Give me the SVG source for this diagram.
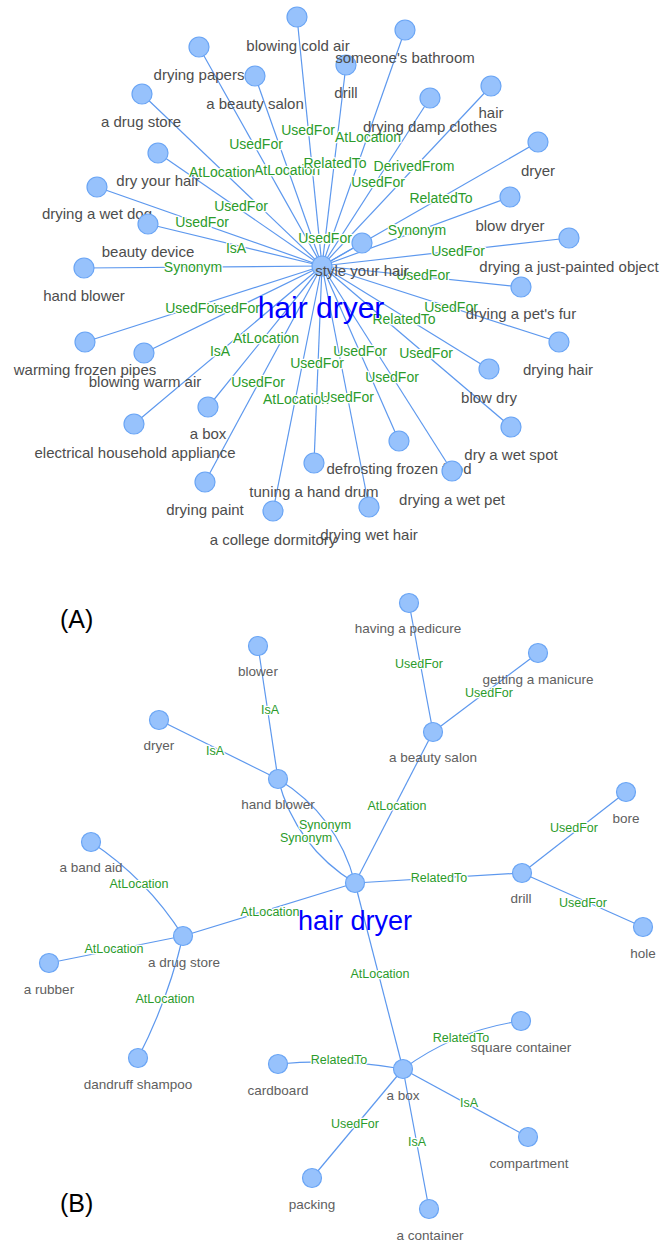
<svg xmlns="http://www.w3.org/2000/svg" width="662" height="1245" viewBox="0 0 662 1245">
<style>
.e{stroke:#5d98ee;stroke-width:1.2;fill:none}
.el{font-family:"Liberation Sans",Arial,sans-serif;font-size:14px;fill:#2b9b2b;text-anchor:middle;paint-order:stroke;stroke:#fff;stroke-width:2.5;stroke-linejoin:round}
.elb{font-size:12.5px}
circle{fill:#97c2fc;stroke:#6aa5f5;stroke-width:1.2}
.nl{font-family:"Liberation Sans",Arial,sans-serif;font-size:15px;fill:#4d4d4d;text-anchor:middle}
.nlb{font-size:13.5px;fill:#606060}
.hub{font-family:"Liberation Sans",Arial,sans-serif;fill:#0000ff;text-anchor:middle}
.tag{font-family:"Liberation Sans",Arial,sans-serif;font-size:25px;fill:#000}
</style>
<rect width="662" height="1245" fill="#fff"/>

<!-- ===== Part A ===== -->
<g id="connectors-a">
<line class="e" x1="322" y1="266" x2="297" y2="17"/>
<line class="e" x1="322" y1="266" x2="199" y2="47"/>
<line class="e" x1="322" y1="266" x2="255" y2="76"/>
<line class="e" x1="322" y1="266" x2="142" y2="94"/>
<line class="e" x1="322" y1="266" x2="158" y2="153"/>
<line class="e" x1="322" y1="266" x2="97" y2="187"/>
<line class="e" x1="322" y1="266" x2="148" y2="224"/>
<line class="e" x1="322" y1="266" x2="84" y2="268"/>
<line class="e" x1="322" y1="266" x2="405" y2="30"/>
<line class="e" x1="322" y1="266" x2="346" y2="65"/>
<line class="e" x1="322" y1="266" x2="430" y2="98"/>
<line class="e" x1="322" y1="266" x2="491" y2="86"/>
<line class="e" x1="322" y1="266" x2="538" y2="142"/>
<line class="e" x1="322" y1="266" x2="510" y2="197"/>
<line class="e" x1="322" y1="266" x2="569" y2="238"/>
<line class="e" x1="322" y1="266" x2="362" y2="243"/>
<line class="e" x1="322" y1="266" x2="521" y2="287"/>
<line class="e" x1="322" y1="266" x2="559" y2="342"/>
<line class="e" x1="322" y1="266" x2="489" y2="369"/>
<line class="e" x1="322" y1="266" x2="511" y2="427"/>
<line class="e" x1="322" y1="266" x2="399" y2="441"/>
<line class="e" x1="322" y1="266" x2="452" y2="471"/>
<line class="e" x1="322" y1="266" x2="369" y2="507"/>
<line class="e" x1="322" y1="266" x2="85" y2="342"/>
<line class="e" x1="322" y1="266" x2="144" y2="353"/>
<line class="e" x1="322" y1="266" x2="134" y2="424"/>
<line class="e" x1="322" y1="266" x2="208" y2="407"/>
<line class="e" x1="322" y1="266" x2="205" y2="482"/>
<line class="e" x1="322" y1="266" x2="314" y2="463"/>
<line class="e" x1="322" y1="266" x2="273" y2="511"/>
<text class="el" x="308" y="135">UsedFor</text>
<text class="el" x="256" y="149">UsedFor</text>
<text class="el" x="287" y="175">AtLocation</text>
<text class="el" x="222" y="177">AtLocation</text>
<text class="el" x="241" y="211">UsedFor</text>
<text class="el" x="202" y="227">UsedFor</text>
<text class="el" x="236" y="253">IsA</text>
<text class="el" x="193" y="272">Synonym</text>
<text class="el" x="368" y="142">AtLocation</text>
<text class="el" x="335" y="168">RelatedTo</text>
<text class="el" x="378" y="187">UsedFor</text>
<text class="el" x="414" y="171">DerivedFrom</text>
<text class="el" x="441" y="203">RelatedTo</text>
<text class="el" x="417" y="235">Synonym</text>
<text class="el" x="458" y="256">UsedFor</text>
<text class="el" x="325" y="243">UsedFor</text>
<text class="el" x="423" y="280">UsedFor</text>
<text class="el" x="451" y="312">UsedFor</text>
<text class="el" x="404" y="324">RelatedTo</text>
<text class="el" x="426" y="358">UsedFor</text>
<text class="el" x="360" y="356">UsedFor</text>
<text class="el" x="392" y="382">UsedFor</text>
<text class="el" x="296" y="404">AtLocation</text>
<text class="el" x="347" y="402">UsedFor</text>
<text class="el" x="233" y="313">UsedFor</text>
<text class="el" x="192" y="313">UsedFor</text>
<text class="el" x="220" y="356">IsA</text>
<text class="el" x="266" y="343">AtLocation</text>
<text class="el" x="258" y="387">UsedFor</text>
<text class="el" x="317" y="368">UsedFor</text>
</g>

<g id="a-hair-dryer"><circle cx="322" cy="266" r="10"/><text class="hub" x="321" y="318" font-size="30">hair dryer</text></g>
<g id="a-style-your-hair"><circle cx="362" cy="243" r="10"/><text class="nl" x="362" y="276">style your hair</text></g>
<g id="a-blowing-cold-air"><circle cx="297" cy="17" r="10"/><text class="nl" x="298" y="51">blowing cold air</text></g>
<g id="a-drying-papers"><circle cx="199" cy="47" r="10"/><text class="nl" x="199" y="80">drying papers</text></g>
<g id="a-beauty-salon"><circle cx="255" cy="76" r="10"/><text class="nl" x="255" y="109">a beauty salon</text></g>
<g id="a-drug-store"><circle cx="142" cy="94" r="10"/><text class="nl" x="141" y="127">a drug store</text></g>
<g id="a-dry-your-hair"><circle cx="158" cy="153" r="10"/><text class="nl" x="158" y="186">dry your hair</text></g>
<g id="a-drying-wet-dog"><circle cx="97" cy="187" r="10"/><text class="nl" x="97" y="219">drying a wet dog</text></g>
<g id="a-beauty-device"><circle cx="148" cy="224" r="10"/><text class="nl" x="148" y="257">beauty device</text></g>
<g id="a-hand-blower"><circle cx="84" cy="268" r="10"/><text class="nl" x="84" y="301">hand blower</text></g>
<g id="a-drill"><circle cx="346" cy="65" r="10"/><text class="nl" x="346" y="98">drill</text></g>
<g id="a-someones-bathroom"><circle cx="405" cy="30" r="10"/><text class="nl" x="405" y="63">someone's bathroom</text></g>
<g id="a-drying-damp-clothes"><circle cx="430" cy="98" r="10"/><text class="nl" x="430" y="132">drying damp clothes</text></g>
<g id="a-hair"><circle cx="491" cy="86" r="10"/><text class="nl" x="491" y="118">hair</text></g>
<g id="a-dryer"><circle cx="538" cy="142" r="10"/><text class="nl" x="538" y="176">dryer</text></g>
<g id="a-blow-dryer"><circle cx="510" cy="197" r="10"/><text class="nl" x="510" y="231">blow dryer</text></g>
<g id="a-drying-just-painted-object"><circle cx="569" cy="238" r="10"/><text class="nl" x="569" y="272">drying a just-painted object</text></g>
<g id="a-drying-pets-fur"><circle cx="521" cy="287" r="10"/><text class="nl" x="521" y="319">drying a pet's fur</text></g>
<g id="a-drying-hair"><circle cx="559" cy="342" r="10"/><text class="nl" x="558" y="375">drying hair</text></g>
<g id="a-blow-dry"><circle cx="489" cy="369" r="10"/><text class="nl" x="489" y="403">blow dry</text></g>
<g id="a-dry-wet-spot"><circle cx="511" cy="427" r="10"/><text class="nl" x="511" y="460">dry a wet spot</text></g>
<g id="a-defrosting-frozen-food"><circle cx="399" cy="441" r="10"/><text class="nl" x="399" y="474">defrosting frozen food</text></g>
<g id="a-drying-wet-pet"><circle cx="452" cy="471" r="10"/><text class="nl" x="452" y="505">drying a wet pet</text></g>
<g id="a-warming-frozen-pipes"><circle cx="85" cy="342" r="10"/><text class="nl" x="85" y="375">warming frozen pipes</text></g>
<g id="a-blowing-warm-air"><circle cx="144" cy="353" r="10"/><text class="nl" x="145" y="387">blowing warm air</text></g>
<g id="a-electrical-household-appliance"><circle cx="134" cy="424" r="10"/><text class="nl" x="135" y="458">electrical household appliance</text></g>
<g id="a-a-box"><circle cx="208" cy="407" r="10"/><text class="nl" x="208" y="439">a box</text></g>
<g id="a-drying-paint"><circle cx="205" cy="482" r="10"/><text class="nl" x="205" y="515">drying paint</text></g>
<g id="a-tuning-hand-drum"><circle cx="314" cy="463" r="10"/><text class="nl" x="314" y="497">tuning a hand drum</text></g>
<g id="a-college-dormitory"><circle cx="273" cy="511" r="10"/><text class="nl" x="273" y="545">a college dormitory</text></g>
<g id="a-drying-wet-hair"><circle cx="369" cy="507" r="10"/><text class="nl" x="369" y="540">drying wet hair</text></g>

<text class="tag" x="60" y="628">(A)</text>

<!-- ===== Part B ===== -->
<g id="connectors-b">
<line class="e" x1="278" y1="779" x2="258" y2="646"/>
<line class="e" x1="278" y1="779" x2="159" y2="720"/>
<path class="e" d="M278,779 Q337,815 355,883"/>
<path class="e" d="M278,779 Q296,847 355,883"/>
<line class="e" x1="355" y1="883" x2="433" y2="732"/>
<line class="e" x1="433" y1="732" x2="409" y2="603"/>
<line class="e" x1="433" y1="732" x2="538" y2="653"/>
<line class="e" x1="355" y1="883" x2="522" y2="873"/>
<line class="e" x1="522" y1="873" x2="626" y2="792"/>
<line class="e" x1="522" y1="873" x2="643" y2="927"/>
<line class="e" x1="355" y1="883" x2="183" y2="936"/>
<path class="e" d="M183,936 Q147,879 91,842"/>
<line class="e" x1="183" y1="936" x2="49" y2="963"/>
<path class="e" d="M183,936 Q168,1000 138,1058"/>
<line class="e" x1="355" y1="883" x2="403" y2="1069"/>
<path class="e" d="M403,1069 Q456,1030 521,1021"/>
<path class="e" d="M403,1069 Q340,1058 278,1064"/>
<line class="e" x1="403" y1="1069" x2="528" y2="1137"/>
<line class="e" x1="403" y1="1069" x2="312" y2="1178"/>
<line class="e" x1="403" y1="1069" x2="429" y2="1209"/>
<text class="el elb" x="270" y="714">IsA</text>
<text class="el elb" x="215" y="755">IsA</text>
<text class="el elb" x="325" y="829">Synonym</text>
<text class="el elb" x="306" y="842">Synonym</text>
<text class="el elb" x="397" y="810">AtLocation</text>
<text class="el elb" x="419" y="668">UsedFor</text>
<text class="el elb" x="489" y="697">UsedFor</text>
<text class="el elb" x="439" y="882">RelatedTo</text>
<text class="el elb" x="574" y="832">UsedFor</text>
<text class="el elb" x="583" y="907">UsedFor</text>
<text class="el elb" x="270" y="916">AtLocation</text>
<text class="el elb" x="139" y="888">AtLocation</text>
<text class="el elb" x="114" y="953">AtLocation</text>
<text class="el elb" x="165" y="1003">AtLocation</text>
<text class="el elb" x="380" y="978">AtLocation</text>
<text class="el elb" x="461" y="1042">RelatedTo</text>
<text class="el elb" x="339" y="1064">RelatedTo</text>
<text class="el elb" x="469" y="1107">IsA</text>
<text class="el elb" x="355" y="1128">UsedFor</text>
<text class="el elb" x="417" y="1146">IsA</text>
</g>

<g id="b-hair-dryer"><circle cx="355" cy="883" r="9.5"/><text class="hub" x="355" y="930" font-size="27">hair dryer</text></g>
<g id="b-blower"><circle cx="258" cy="646" r="9.5"/><text class="nl nlb" x="258" y="676">blower</text></g>
<g id="b-dryer"><circle cx="159" cy="720" r="9.5"/><text class="nl nlb" x="159" y="750">dryer</text></g>
<g id="b-hand-blower"><circle cx="278" cy="779" r="9.5"/><text class="nl nlb" x="278" y="809">hand blower</text></g>
<g id="b-having-pedicure"><circle cx="409" cy="603" r="9.5"/><text class="nl nlb" x="408" y="633">having a pedicure</text></g>
<g id="b-getting-manicure"><circle cx="538" cy="653" r="9.5"/><text class="nl nlb" x="538" y="684">getting a manicure</text></g>
<g id="b-beauty-salon"><circle cx="433" cy="732" r="9.5"/><text class="nl nlb" x="433" y="762">a beauty salon</text></g>
<g id="b-bore"><circle cx="626" cy="792" r="9.5"/><text class="nl nlb" x="626" y="823">bore</text></g>
<g id="b-drill"><circle cx="522" cy="873" r="9.5"/><text class="nl nlb" x="521" y="903">drill</text></g>
<g id="b-hole"><circle cx="643" cy="927" r="9.5"/><text class="nl nlb" x="643" y="958">hole</text></g>
<g id="b-band-aid"><circle cx="91" cy="842" r="9.5"/><text class="nl nlb" x="91" y="872">a band aid</text></g>
<g id="b-drug-store"><circle cx="183" cy="936" r="9.5"/><text class="nl nlb" x="184" y="967">a drug store</text></g>
<g id="b-rubber"><circle cx="49" cy="963" r="9.5"/><text class="nl nlb" x="49" y="994">a rubber</text></g>
<g id="b-dandruff-shampoo"><circle cx="138" cy="1058" r="9.5"/><text class="nl nlb" x="138" y="1089">dandruff shampoo</text></g>
<g id="b-a-box"><circle cx="403" cy="1069" r="9.5"/><text class="nl nlb" x="403" y="1100">a box</text></g>
<g id="b-square-container"><circle cx="521" cy="1021" r="9.5"/><text class="nl nlb" x="521" y="1052">square container</text></g>
<g id="b-cardboard"><circle cx="278" cy="1064" r="9.5"/><text class="nl nlb" x="278" y="1095">cardboard</text></g>
<g id="b-compartment"><circle cx="528" cy="1137" r="9.5"/><text class="nl nlb" x="529" y="1168">compartment</text></g>
<g id="b-packing"><circle cx="312" cy="1178" r="9.5"/><text class="nl nlb" x="312" y="1209">packing</text></g>
<g id="b-a-container"><circle cx="429" cy="1209" r="9.5"/><text class="nl nlb" x="430" y="1240">a container</text></g>

<text class="tag" x="60" y="1212">(B)</text>
</svg>
